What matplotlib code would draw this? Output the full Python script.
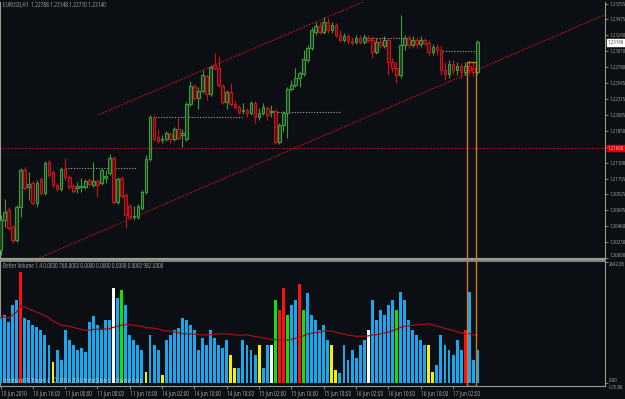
import numpy as np
import pandas as pd
import matplotlib
matplotlib.use("Agg")
import matplotlib.pyplot as plt
from matplotlib.patches import Rectangle

# ---------------- data ----------------
opens = [1.2012,1.2055,1.2070,1.2045,1.2026,1.2074,1.2128,1.2103,1.2109,1.2080,
         1.2115,1.2095,1.2140,1.2125,1.2106,1.2100,1.2130,1.2118,1.2105,1.2102,
         1.2103,1.2103,1.2114,1.2106,1.2112,1.2109,1.2116,1.2124,1.2146,1.2082,
         1.2116,1.2092,1.2076,1.2060,1.2060,1.2073,1.2096,1.2144,1.2205,1.2176,
         1.2172,1.2173,1.2181,1.2173,1.2188,1.2179,1.2173,1.2224,1.2250,1.2233,
         1.2243,1.2265,1.2239,1.2281,1.2277,1.2250,1.2227,1.2242,1.2224,1.2220,
         1.2214,1.2216,1.2211,1.2226,1.2205,1.2211,1.2218,1.2213,1.2214,1.2169,
         1.2194,1.2211,1.2246,1.2252,1.2262,1.2268,1.2288,1.2306,1.2329,1.2338,
         1.2329,1.2344,1.2332,1.2339,1.2325,1.2317,1.2323,1.2316,1.2315,1.2320,
         1.2315,1.2320,1.2317,1.2300,1.2315,1.2309,1.2317,1.2285,1.2277,1.2266,
         1.2310,1.2320,1.2310,1.2317,1.2312,1.2317,1.2313,1.2300,1.2307,1.2303,
         1.2274,1.2268,1.2282,1.2274,1.2280,1.2271,1.2280,1.2277,1.2271]
highs = [1.2063,1.2086,1.2074,1.2048,1.2077,1.2131,1.2132,1.2125,1.2112,1.2114,
         1.2118,1.2141,1.2143,1.2128,1.2109,1.2132,1.2146,1.2121,1.2108,1.2111,
         1.2116,1.2115,1.2116,1.2140,1.2115,1.2131,1.2128,1.2151,1.2149,1.2118,
         1.2119,1.2095,1.2079,1.2076,1.2079,1.2099,1.2150,1.2208,1.2208,1.2188,
         1.2179,1.2185,1.2183,1.2191,1.2204,1.2188,1.2227,1.2258,1.2253,1.2249,
         1.2274,1.2268,1.2281,1.2298,1.2294,1.2253,1.2245,1.2255,1.2230,1.2223,
         1.2226,1.2218,1.2229,1.2229,1.2218,1.2226,1.2221,1.2223,1.2217,1.2197,
         1.2214,1.2249,1.2259,1.2277,1.2272,1.2303,1.2310,1.2336,1.2344,1.2344,
         1.2351,1.2349,1.2344,1.2342,1.2332,1.2328,1.2326,1.2322,1.2325,1.2325,
         1.2326,1.2325,1.2323,1.2320,1.2320,1.2323,1.2320,1.2291,1.2285,1.2354,
         1.2325,1.2325,1.2323,1.2322,1.2323,1.2320,1.2317,1.2312,1.2312,1.2309,
         1.2285,1.2288,1.2288,1.2285,1.2284,1.2285,1.2288,1.2285,1.2317]
lows = [1.2004,1.2045,1.2041,1.2022,1.2023,1.2060,1.2099,1.2084,1.2077,1.2074,
        1.2092,1.2092,1.2118,1.2103,1.2098,1.2098,1.2114,1.2100,1.2095,1.2095,
        1.2096,1.2100,1.2105,1.2103,1.2089,1.2106,1.2109,1.2121,1.2079,1.2079,
        1.2087,1.2044,1.2057,1.2055,1.2057,1.2070,1.2093,1.2141,1.2170,1.2167,
        1.2167,1.2170,1.2167,1.2170,1.2172,1.2162,1.2170,1.2221,1.2230,1.2217,
        1.2240,1.2230,1.2236,1.2274,1.2249,1.2224,1.2217,1.2221,1.2217,1.2210,
        1.2210,1.2205,1.2208,1.2197,1.2201,1.2208,1.2201,1.2205,1.2166,1.2166,
        1.2183,1.2175,1.2243,1.2249,1.2249,1.2265,1.2285,1.2303,1.2325,1.2326,
        1.2326,1.2328,1.2328,1.2322,1.2315,1.2315,1.2312,1.2310,1.2312,1.2312,
        1.2312,1.2315,1.2291,1.2297,1.2306,1.2306,1.2266,1.2271,1.2255,1.2262,
        1.2303,1.2306,1.2307,1.2306,1.2307,1.2309,1.2296,1.2296,1.2296,1.2266,
        1.2259,1.2262,1.2268,1.2266,1.2262,1.2266,1.2268,1.2265,1.2268]
closes = [1.2055,1.2067,1.2044,1.2026,1.2074,1.2128,1.2102,1.2108,1.2080,1.2109,
          1.2095,1.2138,1.2121,1.2106,1.2100,1.2130,1.2118,1.2103,1.2098,1.2105,
          1.2105,1.2112,1.2108,1.2112,1.2106,1.2128,1.2119,1.2146,1.2082,1.2115,
          1.2090,1.2063,1.2060,1.2061,1.2076,1.2096,1.2144,1.2205,1.2173,1.2170,
          1.2173,1.2182,1.2173,1.2188,1.2175,1.2182,1.2224,1.2250,1.2233,1.2243,
          1.2266,1.2239,1.2278,1.2277,1.2252,1.2227,1.2242,1.2224,1.2220,1.2213,
          1.2216,1.2211,1.2226,1.2205,1.2211,1.2220,1.2208,1.2214,1.2169,1.2194,
          1.2211,1.2246,1.2252,1.2262,1.2269,1.2290,1.2306,1.2332,1.2338,1.2329,
          1.2344,1.2332,1.2339,1.2325,1.2317,1.2323,1.2316,1.2313,1.2320,1.2315,
          1.2322,1.2317,1.2300,1.2315,1.2310,1.2317,1.2285,1.2277,1.2266,1.2310,
          1.2320,1.2310,1.2317,1.2312,1.2317,1.2313,1.2300,1.2307,1.2303,1.2274,
          1.2268,1.2282,1.2274,1.2280,1.2271,1.2280,1.2274,1.2271,1.2314]

volumes = [1420,1485,1332,1704,1813,2424,1420,1376,1267,1223,
           1158,1048,830,459,721,502,1158,939,830,721,
           764,677,1332,1463,1267,1158,1376,1376,2075,1856,
           2031,1704,1048,939,830,721,240,1048,830,721,
           175,939,1048,1158,1201,1420,1376,1267,1158,721,
           983,830,1158,983,830,764,939,612,328,328,
           939,830,721,612,830,328,830,830,1813,1594,
           2075,1485,1704,1813,2162,1594,1965,1485,1376,1158,
           1267,939,830,284,218,830,502,721,546,830,
           939,1158,1813,1376,1594,1485,1704,1813,1594,1987,
           1813,1376,1158,1048,939,830,830,240,393,1048,
           830,721,612,939,721,1158,1987,502,721]
vol_types = ("bbbbbrbbbbbbbybbbbbbbbbbbbbbwbgbbbbbybbbybbbbbbbbbbbbbbbbyyb"
             "bbbbybbwgrrgbbrgbbbbbbyybbbbbbbwbbbbbbgbbbbbbbyybbbbbbbrbb")

time_tick_bars = [0, 8, 16, 24, 32, 40, 48, 56, 64, 72, 80, 88, 96, 104, 112]
time_labels = ["10 Jun 2010", "10 Jun 16:00", "11 Jun 00:00", "11 Jun 08:00",
               "11 Jun 16:00", "14 Jun 02:00", "14 Jun 10:00", "14 Jun 18:00",
               "15 Jun 02:00", "15 Jun 10:00", "15 Jun 18:00", "16 Jun 02:00",
               "16 Jun 10:00", "16 Jun 18:00", "17 Jun 02:00"]
price_ticks = [1.23705, 1.23475, 1.23240, 1.23010, 1.22780, 1.22545, 1.22315,
               1.22085, 1.21850, 1.21620, 1.21390, 1.21155, 1.20925, 1.20695,
               1.20460, 1.20230, 1.20000]

current_price = 1.23140
red_level = 1.21600
# dotted gray levels: (start bar, end bar, price)
level_start = [16.0, 38.2, 67.2, 90.2, 108.8]
level_end = [33.8, 59.8, 84.0, 102.6, 117.5]
level_price = [1.2131, 1.2205, 1.2213, 1.2320, 1.2301]
# trend channel anchors (bar, price)
lower_line = [(9.0, 1.19985), (143.4, 1.23385)]
upper_line = [(24.1, 1.22082), (100.0, 1.23987)]
highlight_bars = (115.5, 117.7)
highlight_top = 1.2285

# ---------------- style ----------------
BG = "#0b0f13"
FRAME = "#9a9a92"
TXT = "#d8d8d8"
plt.rcParams["font.family"] = ["Open Sans", "DejaVu Sans"]
plt.rcParams["font.stretch"] = "condensed"
plt.rcParams["font.weight"] = "normal"
FS = 4.9      # header / time labels
FSA = 4.5     # right-axis labels

W, H = 625, 399
fig = plt.figure(figsize=(W / 100, H / 100), dpi=100, facecolor=BG)

def fbox(x0, y0, x1, y1):
    return [x0 / W, 1 - y1 / H, (x1 - x0) / W, (y1 - y0) / H]

axp = fig.add_axes(fbox(0, 2, 605, 259), facecolor=BG)
axv = fig.add_axes(fbox(0, 261, 605, 386), facecolor=BG)

n = len(opens)
idx = np.arange(n)
xlim = (-0.124, 149.6)

# ---- candles ----
bull_edge, bull_face = "#3e9a3e", "#1c3e1c"
bear_edge, bear_face = "#c8141e", "#520b12"
for i in range(n):
    o, h, l, c = opens[i], highs[i], lows[i], closes[i]
    up = c >= o
    ec = bull_edge if up else bear_edge
    fc = bull_face if up else bear_face
    axp.vlines(i, l, h, color=ec, lw=0.8, zorder=3)
    body = max(abs(c - o), 0.00003)
    axp.bar(i, body, bottom=min(o, c), width=0.66, color=fc, edgecolor=ec,
            linewidth=0.8, zorder=4)

# levels
for s, e, p in zip(level_start, level_end, level_price):
    axp.hlines(p, s, e, colors="#a8a8a0", lw=0.8, linestyles=(0, (1, 1.5)), zorder=2)
axp.axhline(red_level, color="#d01020", lw=0.8, ls=(0, (1, 1.2)), zorder=2)
axp.axline(lower_line[0], lower_line[1], color="#c81222", lw=0.85, ls=(0, (1.2, 1.2)), zorder=2)
ux = np.array([upper_line[0][0], 160])
slope = (upper_line[1][1] - upper_line[0][1]) / (upper_line[1][0] - upper_line[0][0])
axp.plot(ux, upper_line[0][1] + slope * (ux - upper_line[0][0]), color="#c81222",
         lw=0.85, ls=(0, (1.2, 1.2)), zorder=2)

axp.set_xlim(*xlim)
axp.set_ylim(1.19985, 1.23727)

# highlight rectangle
axp.add_patch(Rectangle((highlight_bars[0], 1.19), highlight_bars[1] - highlight_bars[0],
                        highlight_top - 1.19, fill=False, ec="#c87a28", lw=1.0, zorder=6))

# ---- volume ----
cmap = {"b": "#19a8ec", "r": "#ff1010", "y": "#f8f000", "w": "#ffffff", "g": "#10e010"}
axv.bar(idx, volumes, width=0.72, color=[cmap[t] for t in vol_types], zorder=3)
ma = pd.Series(volumes).rolling(40, min_periods=1).mean()
axv.plot(idx, ma, color="#a01018", lw=0.9, zorder=4)
axv.set_xlim(*xlim)
axv.set_ylim(-65.5, 2664)
axv.add_patch(Rectangle((highlight_bars[0], -60), highlight_bars[1] - highlight_bars[0],
                        3000, fill=False, ec="#c87a28", lw=1.0, zorder=6))

# ---- axes styling ----
for ax in (axp, axv):
    for sp in ax.spines.values():
        sp.set_color(FRAME)
        sp.set_linewidth(0.8)
    ax.spines["top"].set_visible(False)
    ax.yaxis.tick_right()
    ax.tick_params(axis="y", colors=FRAME, length=2, width=0.6, pad=1.0,
                   labelsize=FSA, labelcolor=TXT)
axp.spines["bottom"].set_linewidth(1.6)
axv.spines["top"].set_visible(True)
axv.spines["top"].set_linewidth(1.2)

axp.set_xticks([])
axp.set_yticks(price_ticks)
axp.set_yticklabels([f"{p:.5f}" for p in price_ticks])
axp.get_yticklabels()[-1].set_va("bottom")

axv.set_yticks([2642.85, 0])
axv.set_yticklabels(["2642.85", "0.00"])
vl = axv.get_yticklabels()
vl[0].set_va("top")
vl[1].set_va("bottom")
axv.set_xticks(time_tick_bars)
axv.set_xticklabels(time_labels, ha="left")
axv.tick_params(axis="x", colors=FRAME, length=2, width=0.6, pad=1.0,
                labelsize=FS, labelcolor=TXT)

# highlighted price labels
axp.text(1.005, current_price, "1.23140", transform=axp.get_yaxis_transform(),
         fontsize=FSA, color="black", va="center", ha="left",
         bbox=dict(boxstyle="square,pad=0.12", fc="white", ec="white"), zorder=10, clip_on=False)
axp.text(1.005, red_level, "1.21600", transform=axp.get_yaxis_transform(),
         fontsize=FSA, color="white", va="center", ha="left",
         bbox=dict(boxstyle="square,pad=0.12", fc="#e00000", ec="#e00000"), zorder=10, clip_on=False)
axv.text(1.005, -40, "-125.86", transform=axv.get_yaxis_transform(), fontsize=FSA,
         color=TXT, va="top", ha="left", clip_on=False)

# header/footer texts
def ftxt(x, y, s):
    fig.text(x / W, 1 - y / H, s, fontsize=FS, color=TXT, va="center", ha="left")

ftxt(3, 6, "EURUSD,H1  1.22788 1.23148 1.22710 1.23140")
ftxt(3, 266, "Better Volume 1.4 0.0000 768.0000 0.0000 0.0000 0.0000 0.0000 982.0000")
ftxt(3, 381, "Interbank FX Trader 4, \u00a9 2001-2010 MetaQuotes Software Corp.")

fig.savefig("out.png", dpi=100, facecolor=BG)
